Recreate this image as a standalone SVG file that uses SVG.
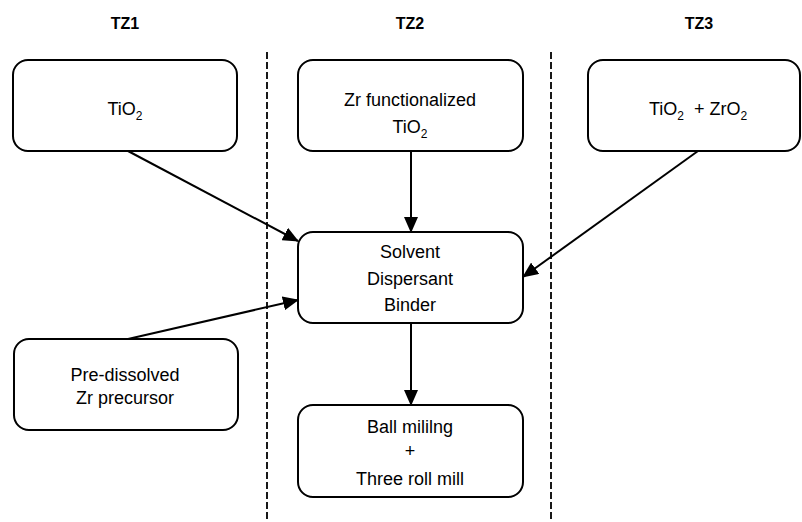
<svg xmlns="http://www.w3.org/2000/svg" width="802" height="522" viewBox="0 0 802 522">
<style>
.box{fill:#fff;stroke:#000;stroke-width:2}
.t{font-family:"Liberation Sans",Arial,sans-serif;font-size:18px;fill:#000;text-anchor:middle}
.h{font-family:"Liberation Sans",Arial,sans-serif;font-size:16px;font-weight:bold;fill:#000;text-anchor:middle}
.sub{font-size:12px}
.conn{stroke:#000;stroke-width:2;fill:none;marker-end:url(#ah)}
.div{stroke:#000;stroke-width:1.8;stroke-dasharray:7,3;fill:none}
</style>
<defs>
<marker id="ah" markerUnits="userSpaceOnUse" markerWidth="16" markerHeight="14" refX="15" refY="7" orient="auto">
<path d="M0,0 L16,7 L0,14 z" fill="#000"/>
</marker>
</defs>
<rect width="802" height="522" fill="#fff"/>
<g id="headers">
<text class="h" x="125" y="29">TZ1</text>
<text class="h" x="410" y="29">TZ2</text>
<text class="h" x="699" y="29">TZ3</text>
</g>
<g id="dividers">
<line class="div" x1="267" y1="52" x2="267" y2="522"/>
<line class="div" x1="551" y1="52" x2="551" y2="522"/>
</g>
<g id="n-tio2">
<rect class="box" x="13" y="60" width="224" height="91" rx="15"/>
<text class="t" x="125" y="115">TiO<tspan class="sub" dy="5">2</tspan></text>
</g>
<g id="n-zrtio2">
<rect class="box" x="298" y="60" width="225" height="91" rx="15"/>
<text class="t" x="410" y="106">Zr functionalized</text>
<text class="t" x="410" y="133">TiO<tspan class="sub" dy="5">2</tspan></text>
</g>
<g id="n-tio2zro2">
<rect class="box" x="588" y="60" width="212" height="91" rx="15"/>
<text class="t" x="698" y="115">TiO<tspan class="sub" dy="5">2</tspan><tspan dy="-5">&#160;&#160;+ ZrO</tspan><tspan class="sub" dy="5">2</tspan></text>
</g>
<g id="n-solvent">
<rect class="box" x="298" y="232" width="225" height="91" rx="15"/>
<text class="t" x="410" y="258">Solvent</text>
<text class="t" x="410" y="285">Dispersant</text>
<text class="t" x="410" y="311">Binder</text>
</g>
<g id="n-precursor">
<rect class="box" x="14" y="339" width="224" height="91" rx="15"/>
<text class="t" x="125" y="381">Pre-dissolved</text>
<text class="t" x="125" y="404">Zr precursor</text>
</g>
<g id="n-milling">
<rect class="box" x="298" y="405" width="225" height="92" rx="15"/>
<text class="t" x="410" y="433">Ball mililng</text>
<text class="t" x="410" y="457">+</text>
<text class="t" x="410" y="485">Three roll mill</text>
</g>
<g id="connectors">
<line class="conn" x1="128" y1="151" x2="298" y2="241"/>
<line class="conn" x1="411" y1="151" x2="411" y2="232"/>
<line class="conn" x1="698" y1="151" x2="523" y2="277"/>
<line class="conn" x1="128" y1="339" x2="298" y2="300"/>
<line class="conn" x1="411" y1="323" x2="411" y2="405"/>
</g>
</svg>
